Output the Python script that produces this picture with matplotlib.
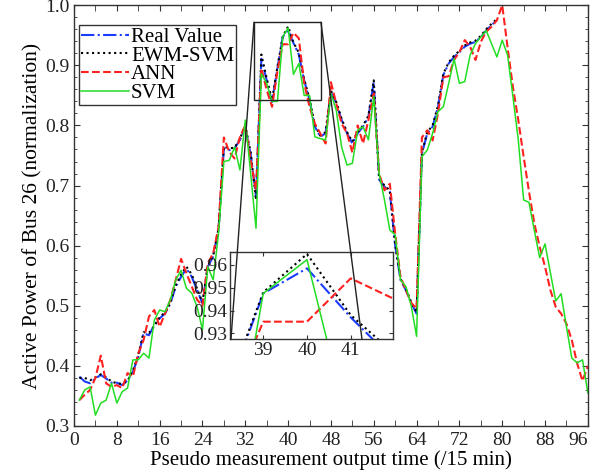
import numpy as np
import matplotlib
matplotlib.use('Agg')
from matplotlib import pyplot as plt
from matplotlib.patches import Rectangle, ConnectionPatch
from matplotlib.ticker import MultipleLocator

plt.rcParams['font.family'] = ['Liberation Serif', 'DejaVu Serif']
plt.rcParams['mathtext.fontset'] = 'stix'

# pseudo measurement points (/15 min)
t_real = np.arange(1, 80)
t_all = np.arange(1, 97)

real_value = [0.382, 0.374, 0.371, 0.379, 0.385, 0.379, 0.372, 0.372, 0.368, 0.376,
              0.390, 0.415, 0.454, 0.451, 0.468, 0.479, 0.487, 0.504, 0.532, 0.548,
              0.562, 0.548, 0.526, 0.504, 0.565, 0.582, 0.626, 0.762, 0.759, 0.762,
              0.776, 0.795, 0.753, 0.681, 0.911, 0.875, 0.839, 0.895, 0.9475, 0.9585,
              0.937, 0.918, 0.875, 0.842, 0.798, 0.781, 0.787, 0.855, 0.837, 0.809,
              0.787, 0.770, 0.787, 0.798, 0.814, 0.872, 0.710, 0.698, 0.690, 0.600,
              0.543, 0.526, 0.504, 0.487, 0.753, 0.787, 0.798, 0.831, 0.884, 0.903,
              0.914, 0.922, 0.931, 0.936, 0.939, 0.947, 0.958, 0.967, 0.975]

ewm_svm = [0.380, 0.380, 0.376, 0.381, 0.386, 0.381, 0.374, 0.371, 0.370, 0.375,
           0.392, 0.418, 0.456, 0.455, 0.466, 0.481, 0.489, 0.505, 0.534, 0.552,
           0.565, 0.552, 0.528, 0.506, 0.566, 0.584, 0.628, 0.765, 0.762, 0.763,
           0.778, 0.800, 0.755, 0.676, 0.918, 0.878, 0.842, 0.897, 0.948, 0.9648,
           0.938, 0.921, 0.877, 0.844, 0.801, 0.783, 0.789, 0.858, 0.839, 0.811,
           0.789, 0.773, 0.789, 0.800, 0.816, 0.875, 0.712, 0.700, 0.692, 0.602,
           0.545, 0.528, 0.506, 0.489, 0.755, 0.789, 0.800, 0.833, 0.886, 0.905,
           0.916, 0.924, 0.933, 0.938, 0.941, 0.949, 0.960, 0.969, 0.977]

ann = [0.343, 0.352, 0.360, 0.380, 0.417, 0.371, 0.365, 0.368, 0.363, 0.388,
       0.382, 0.421, 0.443, 0.482, 0.493, 0.465, 0.487, 0.510, 0.543, 0.578,
       0.554, 0.532, 0.510, 0.500, 0.571, 0.587, 0.631, 0.780, 0.756, 0.745,
       0.781, 0.800, 0.742, 0.692, 0.895, 0.859, 0.831, 0.890, 0.9351, 0.9351,
       0.9541, 0.945, 0.870, 0.831, 0.803, 0.787, 0.770, 0.872, 0.836, 0.803,
       0.787, 0.755, 0.800, 0.770, 0.809, 0.853, 0.720, 0.692, 0.703, 0.620,
       0.548, 0.526, 0.505, 0.495, 0.780, 0.792, 0.775, 0.820, 0.880, 0.882,
       0.909, 0.922, 0.942, 0.931, 0.909, 0.939, 0.956, 0.964, 0.975, 1.000,
       0.930, 0.864, 0.809, 0.748, 0.690, 0.637, 0.598, 0.565, 0.526, 0.498,
       0.487, 0.470, 0.443, 0.404, 0.375, 0.400]

svm = [0.343, 0.360, 0.365, 0.318, 0.338, 0.343, 0.371, 0.338, 0.357, 0.363,
       0.410, 0.410, 0.421, 0.413, 0.476, 0.493, 0.490, 0.510, 0.543, 0.559,
       0.529, 0.521, 0.498, 0.460, 0.565, 0.543, 0.620, 0.740, 0.742, 0.764,
       0.726, 0.809, 0.720, 0.629, 0.886, 0.870, 0.840, 0.840, 0.9475, 0.9623,
       0.885, 0.903, 0.850, 0.850, 0.781, 0.778, 0.776, 0.853, 0.825, 0.764,
       0.734, 0.737, 0.792, 0.798, 0.776, 0.848, 0.720, 0.676, 0.626, 0.618,
       0.543, 0.532, 0.500, 0.449, 0.748, 0.759, 0.787, 0.823, 0.831, 0.870,
       0.911, 0.870, 0.873, 0.917, 0.936, 0.947, 0.958, 0.936, 0.914, 0.942,
       0.917, 0.848, 0.776, 0.676, 0.672, 0.625, 0.580, 0.603, 0.555, 0.508,
       0.520, 0.465, 0.413, 0.405, 0.410, 0.355]

x_ticks = list(range(0, 97, 8))
inset_xticks = [39, 40, 41]
inset_yticks = [0.93, 0.94, 0.95, 0.96]

series = [
    (t_real, real_value, 'Real Value', dict(color='#1a3cff', ls='-.', lw=1.5)),
    (t_real, ewm_svm, 'EWM-SVM', dict(color='black', ls=':', lw=1.5)),
    (t_all, ann, 'ANN', dict(color='#ff2020', ls='--', lw=1.5)),
    (t_all, svm, 'SVM', dict(color='#22dd22', ls='-', lw=1.1)),
]


def style_axes(a, size):
    a.tick_params(which='both', direction='in', top=True, right=True,
                  labelsize=size, colors='#333333', labelcolor='#222222')
    for sp in a.spines.values():
        sp.set_color('#333333')
        sp.set_linewidth(1.0)


def main():
    fig = plt.figure(figsize=(5.95, 4.75), dpi=100)
    ax = fig.add_axes([0.1244, 0.1032, 0.8636, 0.8858])
    for x, y, lab, kw in series:
        ax.plot(x, y, label=lab, **kw)
    ax.set_xlim(0, 96)
    ax.set_ylim(0.3, 1.0)
    ax.set_xticks(x_ticks)
    ax.set_xticklabels([str(v) for v in x_ticks])
    ax.xaxis.set_minor_locator(MultipleLocator(4))
    ax.yaxis.set_major_locator(MultipleLocator(0.1))
    ax.yaxis.set_minor_locator(MultipleLocator(0.02))
    style_axes(ax, 14)
    ax.tick_params(axis='x', which='both', length=4.5, pad=4)
    ax.tick_params(axis='y', which='major', length=4.5, pad=3)
    ax.tick_params(axis='y', which='minor', length=2.5)
    # last label squeezed inside the figure edge
    ax.get_xticklabels()[-1].set_horizontalalignment('right')
    ax.set_xlabel('Pseudo measurement output time (/15 min)', fontsize=15, labelpad=1)
    ax.set_ylabel('Active Power of Bus 26 (normalization)', fontsize=15.5, labelpad=2)

    leg = ax.legend(loc='upper left', bbox_to_anchor=(0.0097, 0.9525), borderaxespad=0,
                    fontsize=15, handlelength=2.3, handletextpad=0.1, labelspacing=-0.04,
                    borderpad=0.1, fancybox=False, framealpha=1, edgecolor='#333333')
    leg.get_frame().set_linewidth(1.0)

    # zoom window
    ax.add_patch(Rectangle((33.62, 0.842), 12.5, 0.13, fill=False, ec='#222222',
                           lw=1.0, zorder=5))

    axins = fig.add_axes([0.3866, 0.2863, 0.2734, 0.1838], zorder=3)
    for x, y, lab, kw in series:
        axins.plot(x, y, **kw)
    axins.set_xlim(38.24, 41.96)
    axins.set_ylim(0.9275, 0.9658)
    axins.set_xticks(inset_xticks)
    axins.set_yticks(inset_yticks)
    axins.set_yticklabels(['%.2f' % v for v in inset_yticks])
    style_axes(axins, 14)
    axins.tick_params(length=3, pad=2)

    for xa, xb in [(33.62, 0.006), (46.13, 0.811)]:
        con = ConnectionPatch(xyA=(xa, 0.9718), coordsA=ax.transData,
                              xyB=(xb, 0.0), coordsB=axins.transAxes,
                              color='#222222', lw=1.0)
        con.set_zorder(6)
        fig.add_artist(con)

    fig.savefig('out.png', dpi=100)


if __name__ == "__main__":
    main()
